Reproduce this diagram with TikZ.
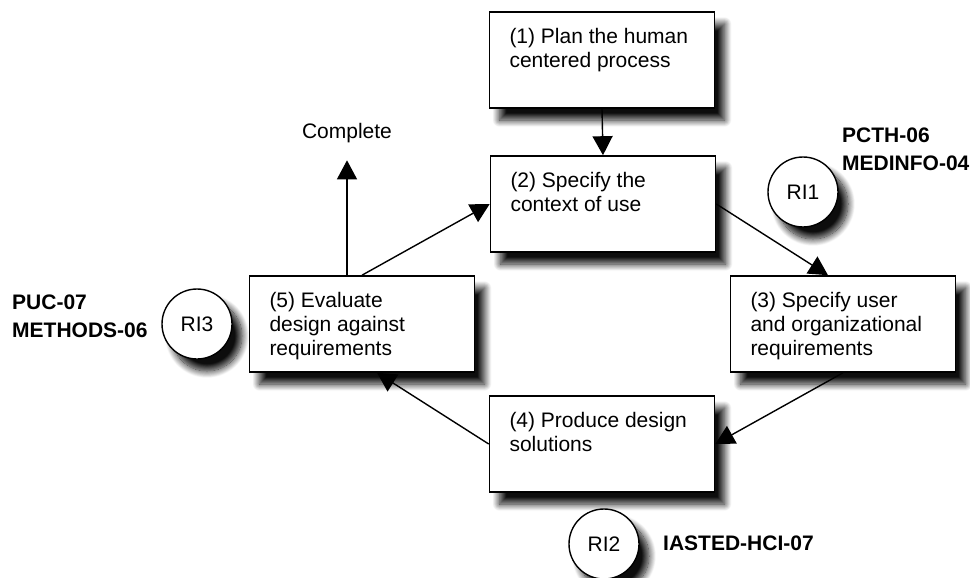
\documentclass[tikz,border=0pt]{standalone}
\usepackage{fontspec}
\setmainfont{Liberation Sans}
\usetikzlibrary{arrows.meta,shadows.blur}

\tikzset{
  dropshadow/.style={blur shadow={shadow xshift=10pt, shadow yshift=-12pt,
      shadow blur radius=7pt, shadow blur steps=14, shadow opacity=95}},
  stagebox/.style={draw=black, line width=1.6pt, fill=white, dropshadow,
      inner xsep=20pt, inner ysep=0pt, minimum width=225pt, minimum height=96pt,
      font=\fontsize{21}{24}\selectfont},
  ricircle/.style={circle, draw=black, line width=1.4pt, fill=white, dropshadow,
      minimum size=70pt, inner sep=0pt, font=\fontsize{21}{25}\selectfont},
  reflabel/.style={anchor=west, inner sep=0pt, font=\fontsize{21}{25}\selectfont\bfseries},
  arr/.style={line width=1.4pt, -{Triangle[length=19pt,width=20pt]}},
}
\newcommand{\stagetext}[1]{\parbox[c][80pt][t]{185pt}{\vspace*{8pt}\raggedright #1}}

\begin{document}
\begin{tikzpicture}[x=1pt, y=-1pt]
  \useasboundingbox (0,0) rectangle (970,578);

  % the five stages of the human centred design cycle
  \node[stagebox] (b1) at (602,60)  {\stagetext{(1) Plan the human\\centered process}};
  \node[stagebox] (b2) at (603,204) {\stagetext{(2) Specify the\\context of use}};
  \node[stagebox] (b3) at (843,324) {\stagetext{(3) Specify user\\and organizational\\requirements}};
  \node[stagebox] (b4) at (602,444) {\stagetext{(4) Produce design\\solutions}};
  \node[stagebox] (b5) at (362,324) {\stagetext{(5) Evaluate\\design against\\requirements}};

  \node[font=\fontsize{21}{25}\selectfont] (done) at (347,133) {Complete};

  % reference markers
  \node[ricircle] (ri1) at (803,192) {RI1};
  \node[ricircle] (ri2) at (604,544) {RI2};
  \node[ricircle] (ri3) at (197,324) {RI3};

  \node[reflabel] (pcth) at (842,135) {PCTH-06};
  \node[reflabel] (medinfo) at (842,163) {MEDINFO-04};
  \node[reflabel] (puc) at (12,302) {PUC-07};
  \node[reflabel] (methods) at (12,330) {METHODS-06};
  \node[reflabel] (iasted) at (663,543) {IASTED-HCI-07};

  % flow between the stages
  \draw[arr] (b1.south) -- (b2.north);
  \draw[arr] (b2.east) -- ([xshift=-15pt]b3.north);
  \draw[arr] (b3.south) -- (b4.east);
  \draw[arr] (b4.west) -- ([xshift=15pt]b5.south);
  \draw[arr] (b5.north) -- (b2.west);
  \draw[arr] (b5.north -| done.south) -- ([yshift=-14pt]done.south);
\end{tikzpicture}
\end{document}
